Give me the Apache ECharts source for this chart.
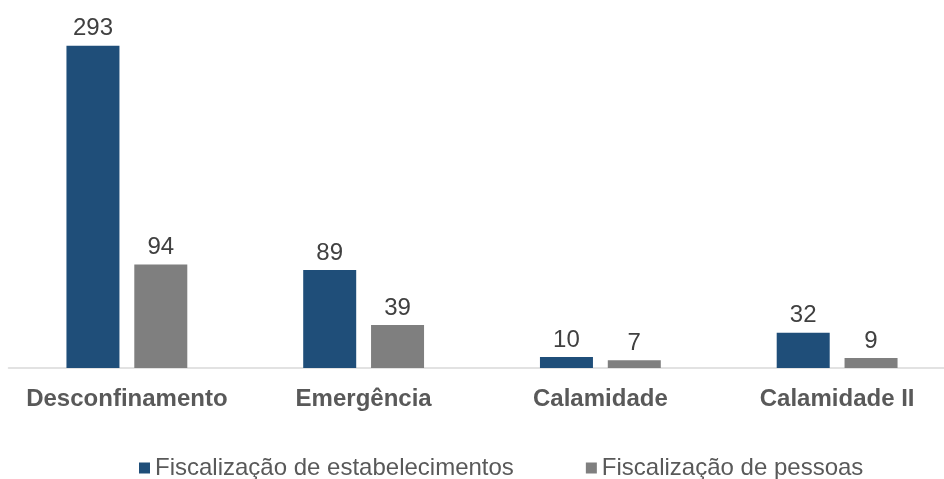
<!DOCTYPE html>
<html>
<head>
<meta charset="utf-8">
<script src="https://cdn.jsdelivr.net/npm/echarts@6/dist/echarts.min.js"></script>
<style>
  html, body { margin: 0; padding: 0; background: #fff; overflow: hidden; width: 944px; height: 479px; }
  /* the plot runs slightly past the right edge of the page */
  #chart { width: 956px; height: 479px; }
</style>
</head>
<body>
<div id="chart"></div>
<script>
// Fiscalizações por período
const categories = ['Desconfinamento', 'Emergência', 'Calamidade', 'Calamidade II'];
const seriesNames = ['Fiscalização de estabelecimentos', 'Fiscalização de pessoas'];
const estabelecimentos = [293, 89, 10, 32];
const pessoas = [94, 39, 7, 9];

const font = 'Liberation Sans, Arial, sans-serif';
const labelStyle = {
  show: true,
  position: 'top',
  distance: 5,
  fontFamily: font,
  fontSize: 24,
  color: '#404040'
};

const chart = echarts.init(document.getElementById('chart'), null, { renderer: 'canvas' });
chart.setOption({
  animation: false,
  grid: { left: 8.5, width: 947, top: 38, height: 330, containLabel: false },
  legend: {
    top: 451,
    left: 134,
    itemWidth: 11,
    itemHeight: 11,
    itemGap: 72,
    icon: 'rect',
    textStyle: { fontFamily: font, fontSize: 24, color: '#595959' },
    data: seriesNames
  },
  xAxis: {
    type: 'category',
    data: categories,
    axisLine: { lineStyle: { color: '#D9D9D9', width: 1.5 } },
    axisTick: { show: false },
    axisLabel: {
      interval: 0,
      margin: 19,
      fontFamily: font,
      fontSize: 24,
      fontWeight: 'bold',
      color: '#595959'
    }
  },
  yAxis: {
    type: 'value',
    min: 0,
    max: 300,
    show: false,
    splitLine: { show: false }
  },
  series: [
    {
      name: seriesNames[0],
      type: 'bar',
      data: estabelecimentos,
      barWidth: 53,
      barGap: '28%',
      itemStyle: { color: '#1F4E79' },
      label: labelStyle
    },
    {
      name: seriesNames[1],
      type: 'bar',
      data: pessoas,
      barWidth: 53,
      itemStyle: { color: '#7F7F7F' },
      label: labelStyle
    }
  ]
});
</script>
</body>
</html>
